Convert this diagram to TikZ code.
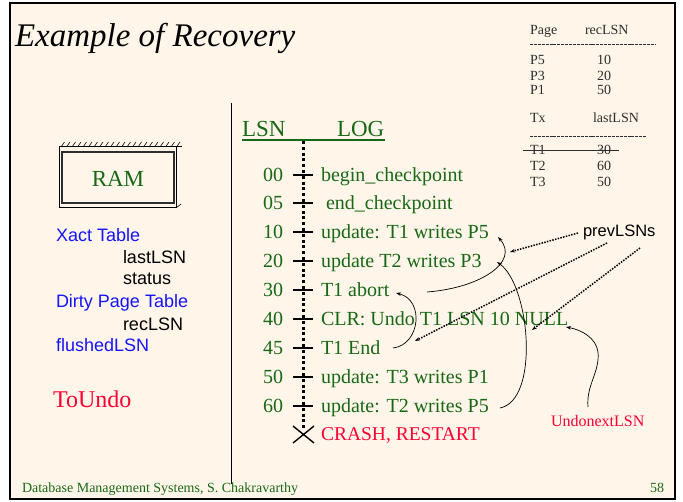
\documentclass[tikz,border=0pt]{standalone}
\usepackage{fontspec}
\setmainfont{Liberation Serif}
\setsansfont{Liberation Sans}
\usetikzlibrary{arrows.meta}
\definecolor{paper}{RGB}{255,245,233}
\definecolor{loggreen}{RGB}{24,104,24}
\definecolor{tblue}{RGB}{20,20,255}
\definecolor{tred}{RGB}{255,0,51}
\definecolor{tgray}{RGB}{45,45,45}
\begin{document}
\begin{tikzpicture}[x=1pt,y=-1pt,
  every node/.style={inner sep=0pt, outer sep=0pt},
  logtxt/.style={anchor=base west, font=\fontsize{20}{24}\selectfont, text=loggreen},
  lsnnum/.style={anchor=base east, font=\fontsize{20}{24}\selectfont, text=loggreen},
  sidetxt/.style={anchor=base west, font=\sffamily\fontsize{18}{22}\selectfont},
  tbltxt/.style={anchor=base west, font=\fontsize{14}{16}\selectfont, text=tgray},
  tblrule/.style={tgray, line width=0.8pt, dash pattern=on 3pt off 0.9pt},
  logtick/.style={line width=1.4pt},
  curvarrow/.style={-{Stealth[length=5pt,width=3.5pt]}, line width=0.7pt},
  dotarrow/.style={-{Stealth[length=5pt,width=3.5pt]}, line width=1.5pt, dash pattern=on 1.5pt off 1.3pt},
]
\useasboundingbox (0,0) rectangle (683,502);
\fill[white] (0,0) rectangle (683,502);
% slide frame
\draw[line width=2pt, fill=paper] (10,3) rectangle (675,499);

% title
\node[anchor=base west, font=\itshape\fontsize{33}{40}\selectfont] (title) at (15,47) {Example of Recovery};

% divider
\draw[line width=0.8pt] (231,103) -- (231,484);

% RAM box with hatched top
\node[anchor=base, font=\fontsize{23}{28}\selectfont, text=loggreen] (ram) at (118,187) {RAM};
\draw[line width=1pt] (59,147) rectangle (176,208);
\draw[line width=1.3pt, tgray] (62,152) rectangle (174,203);
\draw[line width=1pt] (176,147) -- (182,147);
\foreach \hx in {61,66.5,...,181} \draw[line width=0.6pt] (\hx,147) -- (\hx+3.5,142);
\draw[line width=0.6pt] (176,208) -- (181,204);

% RAM contents
\node[sidetxt, text=tblue] (xact) at (56,242) {Xact Table};
\node[sidetxt] (lastlsn) at (123,264) {lastLSN};
\node[sidetxt] (status) at (123,285) {status};
\node[sidetxt, text=tblue] (dpt) at (56,308) {Dirty Page Table};
\node[sidetxt] (reclsn) at (123,331) {recLSN};
\node[sidetxt, text=tblue] (flushed) at (56,352) {flushedLSN};
\node[anchor=base west, font=\fontsize{24}{28}\selectfont, text=tred] (toundo) at (53,408) {ToUndo};

% dirty page table and transaction table
\node[tbltxt] (pg) at (530,35) {Page};
\node[tbltxt] (pgrec) at (585,35) {recLSN};
\draw[tblrule] (530,44) -- (655,44);
\node[tbltxt] (p5) at (530,65) {P5};
\node[tbltxt] (p5v) at (597,65) {10};
\node[tbltxt] (p3) at (530,81) {P3};
\node[tbltxt] (p3v) at (597,81) {20};
\node[tbltxt] (p1) at (530,95) {P1};
\node[tbltxt] (p1v) at (597,95) {50};
\node[tbltxt] (tx) at (530,123) {Tx};
\node[tbltxt] (txlast) at (593,123) {lastLSN};
\draw[tblrule] (530,136) -- (646,136);
\node[tbltxt] (t1) at (530,155) {T1};
\node[tbltxt] (t1v) at (597,155) {30};
\node[tbltxt] (t2) at (530,171) {T2};
\node[tbltxt] (t2v) at (597,171) {60};
\node[tbltxt] (t3) at (530,187) {T3};
\node[tbltxt] (t3v) at (597,187) {50};
\draw[tgray, line width=1pt] (523,151) -- (619,151);

% log header
\node[anchor=base west, font=\fontsize{23}{28}\selectfont, text=loggreen] (hlsn) at (242,137) {LSN};
\node[anchor=base west, font=\fontsize{23}{28}\selectfont, text=loggreen] (hlog) at (337,137) {LOG};
\draw[loggreen, line width=1.5pt] (242,140) -- (385,140);

% log axis
\draw[line width=3pt, dash pattern=on 3pt off 2.8pt] (303,141) -- (303,430);
\foreach \ty in {175,203,232,261,290,319,348,377,406}
  \draw[logtick] (293,\ty) -- (313,\ty);
\draw[line width=1.4pt] (293,426) -- (314,443) (293,443) -- (314,426);

% log records
\node[lsnnum] (n00) at (283,182) {00};
\node[lsnnum] (n05) at (283,210) {05};
\node[lsnnum] (n10) at (283,239) {10};
\node[lsnnum] (n20) at (283,268) {20};
\node[lsnnum] (n30) at (283,297) {30};
\node[lsnnum] (n40) at (283,326) {40};
\node[lsnnum] (n45) at (283,355) {45};
\node[lsnnum] (n50) at (283,384) {50};
\node[lsnnum] (n60) at (283,413) {60};
\node[logtxt] (l00) at (321,182) {begin\_checkpoint};
\node[logtxt] (l05) at (326,210) {end\_checkpoint};
\node[logtxt] (l10) at (321,239) {update: T1 writes P5};
\node[logtxt] (l20) at (321,268) {update T2 writes P3};
\node[logtxt] (l30) at (321,297) {T1 abort};
\node[logtxt] (l40) at (321,326) {CLR: Undo T1 LSN 10 NULL};
\node[logtxt] (l45) at (321,355) {T1 End};
\node[logtxt] (l50) at (321,384) {update: T3 writes P1};
\node[logtxt] (l60) at (321,413) {update: T2 writes P5};
\node[logtxt, text=tred, font=\fontsize{19.5}{24}\selectfont] (crash) at (321,441) {CRASH, RESTART};

% labels
\node[anchor=base west, font=\sffamily\fontsize{16.5}{20}\selectfont] (prev) at (583,237) {prevLSNs};
\node[anchor=base west, font=\fontsize{16}{20}\selectfont, text=tred] (undonext) at (551,427) {UndonextLSN};

% connector end points
\coordinate (abortR) at (427,292);
\coordinate (upP5R) at (498,237);
\coordinate (upP3R) at (497,262);
\coordinate (upT2R) at (500,408);
\coordinate (endR) at (393,348);
\coordinate (abortT) at (396,293);
\coordinate (undoS) at (588,407);
\coordinate (nullR) at (566,327);
\coordinate (prevA) at (578,233);
\coordinate (prevB) at (607,243);
\coordinate (prevC) at (640,248);
\coordinate (prevAe) at (510,252);
\coordinate (prevBe) at (415,341);
\coordinate (prevCe) at (532,330);

% prevLSN chains
\draw[curvarrow] (abortR) .. controls (480,288) and (520,262) .. (upP5R);
\draw[curvarrow] (upT2R) .. controls (540,400) and (530,285) .. (upP3R);
\draw[curvarrow] (endR) .. controls (420,345) and (425,300) .. (abortT);
\draw[curvarrow] (undoS) .. controls (586,385) and (600,372) .. (598,352)
  .. controls (596,338) and (582,330) .. (nullR);
\draw[dotarrow] (prevA) -- (prevAe);
\draw[dotarrow] (prevB) -- (prevBe);
\draw[dotarrow] (prevC) -- (prevCe);

% footer
\node[anchor=base west, font=\fontsize{14}{16}\selectfont, text=loggreen] (foot) at (22,493) {Database Management Systems, S. Chakravarthy};
\node[anchor=base west, font=\fontsize{14}{16}\selectfont, text=loggreen] (page) at (650,493) {58};
\end{tikzpicture}
\end{document}
